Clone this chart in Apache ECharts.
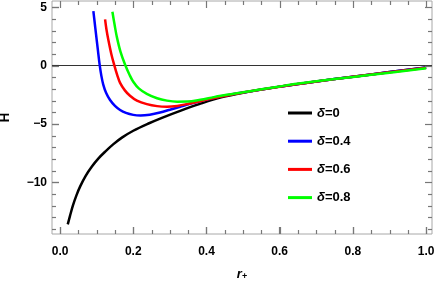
<!DOCTYPE html>
<html><head><meta charset="utf-8">
<script src="https://cdn.jsdelivr.net/npm/echarts@6/dist/echarts.min.js"></script>
<style>html,body{margin:0;padding:0;background:#fff}#c{width:436px;height:286px}</style>
</head><body><div id="c"></div>
<script>
// Data
const legendNames = ['δ=0', 'δ=0.4', 'δ=0.6', 'δ=0.8'];
const r0 = [0.021,0.027,0.035,0.045,0.055,0.07,0.087,0.105,0.123,0.145,0.17,0.2,0.24,0.28,0.33,0.38,0.44,0.5,0.6,0.7,0.8,0.9,1.0];
const h0 = [-13.6,-12.9,-12.0,-11.1,-10.35,-9.45,-8.65,-7.95,-7.38,-6.75,-6.15,-5.58,-4.98,-4.45,-3.85,-3.3,-2.72,-2.32,-1.8,-1.35,-0.95,-0.55,-0.15];
const r4 = [0.091,0.0945,0.098,0.1033,0.1085,0.113,0.118,0.126,0.1366,0.15,0.164,0.18,0.2,0.22,0.245,0.273,0.3,0.328,0.355,0.383,0.41,0.44,0.47,0.5,0.6,0.7,0.8,0.9,1.0];
const h4 = [4.68,3.72,2.77,1.35,0.0,-0.9,-1.62,-2.35,-2.95,-3.45,-3.8,-4.05,-4.22,-4.27,-4.2,-4.02,-3.78,-3.52,-3.27,-3.04,-2.83,-2.63,-2.45,-2.3,-1.8,-1.35,-0.95,-0.55,-0.15];
const r6 = [0.123,0.127,0.132,0.14,0.148,0.156,0.164,0.177,0.191,0.21,0.237,0.265,0.292,0.32,0.35,0.383,0.41,0.44,0.47,0.5,0.6,0.7,0.8,0.9,1.0];
const h6 = [3.97,3.05,2.19,1.0,0.05,-0.8,-1.48,-2.12,-2.58,-3.0,-3.3,-3.47,-3.52,-3.45,-3.28,-3.05,-2.85,-2.65,-2.47,-2.3,-1.8,-1.36,-0.96,-0.57,-0.18];
const r8 = [0.143,0.149,0.155,0.165,0.178,0.19,0.2,0.215,0.237,0.265,0.292,0.32,0.347,0.383,0.42,0.455,0.5,0.546,0.6,0.647,0.7,0.8,0.9,1.0];
const h8 = [4.62,3.5,2.48,1.2,0.05,-0.8,-1.38,-1.95,-2.42,-2.8,-3.0,-3.09,-3.08,-2.93,-2.7,-2.5,-2.28,-2.05,-1.78,-1.55,-1.33,-0.97,-0.6,-0.23];
const xMajor = [0,0.2,0.4,0.6,0.8,1.0];
const xMinor = [0.05,0.1,0.15,0.25,0.3,0.35,0.45,0.5,0.55,0.65,0.7,0.75,0.85,0.9,0.95];
const yMajor = [-10,-5,0,5];
const yMinor = [-14,-13,-12,-11,-9,-8,-7,-6,-4,-3,-2,-1,1,2,3,4];

const colors = ['#000000','#0000ff','#ff0000','#00ff00'];
const rs = [r0,r4,r6,r8], hs = [h0,h4,h6,h8];
const X0=-0.022, X1=1.016, Y0=-14.43, Y1=5.54;
const tickCol = '#777777';
const fontFam = 'Liberation Sans, Arial, sans-serif';
const lblStyle = {color:'#000', fontWeight:'bold', fontSize:12, fontFamily:fontFam};

// minor tick items for the custom tick series: [value, axis(0=x,1=y)]
const minorItems = xMinor.map(v=>[v,0]).concat(yMinor.map(v=>[v,1]))
  .concat(xMajor.map(v=>[v,2])).concat(yMajor.map(v=>[v,3]));

function renderTick(params, api){
  const cs = params.coordSys;
  const v = api.value(0), code = api.value(1);
  const isX = (code === 0 || code === 2);
  const len = code >= 2 ? 7 : 4;
  const st = {stroke:tickCol, lineWidth:1.2, fill:null};
  if (isX){
    const x = Math.round(api.coord([v, 0])[0]) + 0.5;
    const yb = cs.y + cs.height, yt = cs.y;
    return {type:'group', children:[
      {type:'line', shape:{x1:x, y1:yb, x2:x, y2:yb-len}, style:st},
      {type:'line', shape:{x1:x, y1:yt, x2:x, y2:yt+len}, style:st}]};
  }
  const y = Math.round(api.coord([0.5, v])[1]) + 0.5;
  const xl = cs.x, xr = cs.x + cs.width;
  return {type:'group', children:[
    {type:'line', shape:{x1:xl, y1:y, x2:xl+len, y2:y}, style:st},
    {type:'line', shape:{x1:xr, y1:y, x2:xr-len, y2:y}, style:st}]};
}

const series = legendNames.map((n,k)=>({
  name:n, type:'line', showSymbol:false, smooth:0.35, z:5,
  lineStyle:{color:colors[k], width:2.5}, itemStyle:{color:colors[k]},
  data: rs[k].map((r,i)=>[r, hs[k][i]])
}));
series[0].markLine = {silent:true, symbol:'none', label:{show:false}, lineStyle:{color:'#333', width:1, type:'solid'}, data:[{yAxis:0}]};
series.push({type:'custom', name:'ticks', silent:true, clip:false, z:8, renderItem:renderTick,
  encode:{x:0, y:1}, data:minorItems});

const chart = echarts.init(document.getElementById('c'), null, {renderer:'canvas'});
chart.setOption({
  animation:false,
  grid:{left:52, right:4, top:1, bottom:52, show:true, borderColor:'#a8a8a8', borderWidth:1, outerBoundsMode:'none'},
  xAxis:{type:'value', min:X0, max:X1, splitLine:{show:false}, axisLine:{show:false, onZero:false},
    axisTick:{show:true, inside:true, length:7, customValues:xMajor, lineStyle:{color:tickCol, width:1.2}},
    axisLabel:Object.assign({show:true, margin:12, customValues:xMajor, formatter:v=>v.toFixed(1)}, lblStyle),
    name:'{r|r}{s|+}', nameLocation:'middle', nameGap:30,
    nameTextStyle:{rich:{r:{fontStyle:'italic', fontWeight:'bold', fontSize:13, fontFamily:fontFam, color:'#000', verticalAlign:'bottom'}, s:{fontWeight:'bold', fontSize:9, fontFamily:fontFam, color:'#000', padding:[8,0,0,0], verticalAlign:'bottom'}}}},
  yAxis:{type:'value', min:Y0, max:Y1, splitLine:{show:false}, axisLine:{show:false, onZero:false},
    axisTick:{show:true, inside:true, length:7, customValues:yMajor, lineStyle:{color:tickCol, width:1.2}},
    axisLabel:Object.assign({show:true, margin:5, customValues:yMajor, formatter:v=>v<0?'\u2212'+Math.abs(v):String(v)}, lblStyle),
    name:'H', nameLocation:'middle', nameRotate:90, nameGap:40,
    nameTextStyle:{color:'#000', fontWeight:'bold', fontSize:13, fontFamily:fontFam}},
  legend:{data:legendNames, orient:'vertical', left:283, top:101, icon:'rect', itemWidth:24, itemHeight:3, itemGap:14.2,
    textStyle:{fontSize:13, fontWeight:'bold', lineHeight:14, color:'#000', fontFamily:fontFam,
      rich:{i:{fontStyle:'italic', fontWeight:'bold', fontSize:13, color:'#000', fontFamily:fontFam}, n:{fontWeight:'bold', fontSize:13, color:'#000', fontFamily:fontFam}}},
    formatter: n => '{i|' + n.slice(0,1) + '}{n|' + n.slice(1) + '}'},
  series: series
});
</script></body></html>
